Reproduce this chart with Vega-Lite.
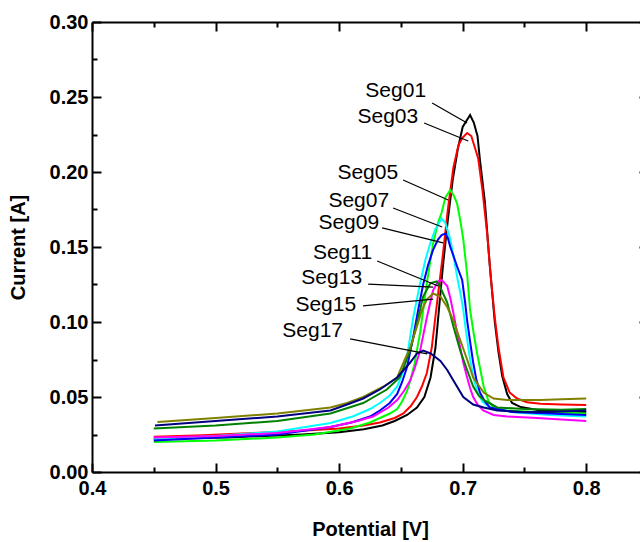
{
 "$schema": "https://vega.github.io/schema/vega-lite/v6.json",
 "width": 556, "height": 450,
 "autosize": {"type": "none"},
 "padding": {"left": 92, "top": 22, "right": -8, "bottom": 70},
 "background": "white",
 "config": {"view": {"stroke": null}, "font": "Liberation Sans"},
 "datasets": {
  "curves": [
   {"s":"Seg01","v":0.45,"i":0.022},{"s":"Seg01","v":0.48,"i":0.0225},{"s":"Seg01","v":0.51,"i":0.023},{"s":"Seg01","v":0.54,"i":0.024},{"s":"Seg01","v":0.57,"i":0.025},{"s":"Seg01","v":0.6,"i":0.0265},{"s":"Seg01","v":0.62,"i":0.0285},{"s":"Seg01","v":0.635,"i":0.031},{"s":"Seg01","v":0.645,"i":0.034},{"s":"Seg01","v":0.655,"i":0.038},{"s":"Seg01","v":0.663,"i":0.043},{"s":"Seg01","v":0.669,"i":0.05},{"s":"Seg01","v":0.674,"i":0.063},{"s":"Seg01","v":0.678,"i":0.083},{"s":"Seg01","v":0.681,"i":0.11},{"s":"Seg01","v":0.684,"i":0.137},{"s":"Seg01","v":0.688,"i":0.168},{"s":"Seg01","v":0.692,"i":0.195},{"s":"Seg01","v":0.696,"i":0.215},{"s":"Seg01","v":0.7,"i":0.23},{"s":"Seg01","v":0.706,"i":0.238},{"s":"Seg01","v":0.709,"i":0.233},{"s":"Seg01","v":0.712,"i":0.224},{"s":"Seg01","v":0.714,"i":0.208},{"s":"Seg01","v":0.718,"i":0.18},{"s":"Seg01","v":0.722,"i":0.137},{"s":"Seg01","v":0.726,"i":0.1},{"s":"Seg01","v":0.729,"i":0.08},{"s":"Seg01","v":0.732,"i":0.064},{"s":"Seg01","v":0.736,"i":0.052},{"s":"Seg01","v":0.74,"i":0.046},{"s":"Seg01","v":0.747,"i":0.0433},{"s":"Seg01","v":0.763,"i":0.041},{"s":"Seg01","v":0.78,"i":0.0405},{"s":"Seg01","v":0.8,"i":0.04},
   {"s":"Seg03","v":0.45,"i":0.0235},{"s":"Seg03","v":0.49,"i":0.0245},{"s":"Seg03","v":0.53,"i":0.026},{"s":"Seg03","v":0.57,"i":0.0275},{"s":"Seg03","v":0.6,"i":0.029},{"s":"Seg03","v":0.62,"i":0.031},{"s":"Seg03","v":0.633,"i":0.033},{"s":"Seg03","v":0.645,"i":0.036},{"s":"Seg03","v":0.652,"i":0.039},{"s":"Seg03","v":0.658,"i":0.044},{"s":"Seg03","v":0.663,"i":0.05},{"s":"Seg03","v":0.667,"i":0.057},{"s":"Seg03","v":0.671,"i":0.066},{"s":"Seg03","v":0.675,"i":0.083},{"s":"Seg03","v":0.68,"i":0.118},{"s":"Seg03","v":0.684,"i":0.145},{"s":"Seg03","v":0.688,"i":0.175},{"s":"Seg03","v":0.6925,"i":0.203},{"s":"Seg03","v":0.6966,"i":0.218},{"s":"Seg03","v":0.7,"i":0.223},{"s":"Seg03","v":0.7036,"i":0.226},{"s":"Seg03","v":0.707,"i":0.224},{"s":"Seg03","v":0.7126,"i":0.209},{"s":"Seg03","v":0.716,"i":0.188},{"s":"Seg03","v":0.7198,"i":0.159},{"s":"Seg03","v":0.723,"i":0.128},{"s":"Seg03","v":0.726,"i":0.103},{"s":"Seg03","v":0.729,"i":0.083},{"s":"Seg03","v":0.733,"i":0.063},{"s":"Seg03","v":0.738,"i":0.053},{"s":"Seg03","v":0.744,"i":0.049},{"s":"Seg03","v":0.752,"i":0.0465},{"s":"Seg03","v":0.763,"i":0.0455},{"s":"Seg03","v":0.78,"i":0.045},{"s":"Seg03","v":0.8,"i":0.0447},
   {"s":"Seg05","v":0.45,"i":0.02},{"s":"Seg05","v":0.5,"i":0.021},{"s":"Seg05","v":0.55,"i":0.023},{"s":"Seg05","v":0.58,"i":0.025},{"s":"Seg05","v":0.609,"i":0.029},{"s":"Seg05","v":0.625,"i":0.033},{"s":"Seg05","v":0.633,"i":0.036},{"s":"Seg05","v":0.641,"i":0.039},{"s":"Seg05","v":0.647,"i":0.042},{"s":"Seg05","v":0.651,"i":0.047},{"s":"Seg05","v":0.655,"i":0.054},{"s":"Seg05","v":0.658,"i":0.062},{"s":"Seg05","v":0.661,"i":0.072},{"s":"Seg05","v":0.6656,"i":0.093},{"s":"Seg05","v":0.671,"i":0.126},{"s":"Seg05","v":0.676,"i":0.152},{"s":"Seg05","v":0.68,"i":0.166},{"s":"Seg05","v":0.683,"i":0.173},{"s":"Seg05","v":0.686,"i":0.183},{"s":"Seg05","v":0.69,"i":0.188},{"s":"Seg05","v":0.693,"i":0.184},{"s":"Seg05","v":0.6955,"i":0.179},{"s":"Seg05","v":0.698,"i":0.168},{"s":"Seg05","v":0.7005,"i":0.155},{"s":"Seg05","v":0.7036,"i":0.132},{"s":"Seg05","v":0.706,"i":0.108},{"s":"Seg05","v":0.709,"i":0.092},{"s":"Seg05","v":0.7117,"i":0.079},{"s":"Seg05","v":0.717,"i":0.057},{"s":"Seg05","v":0.721,"i":0.047},{"s":"Seg05","v":0.725,"i":0.043},{"s":"Seg05","v":0.735,"i":0.041},{"s":"Seg05","v":0.76,"i":0.04},{"s":"Seg05","v":0.8,"i":0.039},
   {"s":"Seg07","v":0.45,"i":0.022},{"s":"Seg07","v":0.5,"i":0.024},{"s":"Seg07","v":0.55,"i":0.027},{"s":"Seg07","v":0.593,"i":0.0327},{"s":"Seg07","v":0.611,"i":0.037},{"s":"Seg07","v":0.625,"i":0.042},{"s":"Seg07","v":0.633,"i":0.046},{"s":"Seg07","v":0.641,"i":0.051},{"s":"Seg07","v":0.647,"i":0.057},{"s":"Seg07","v":0.651,"i":0.065},{"s":"Seg07","v":0.655,"i":0.077},{"s":"Seg07","v":0.66,"i":0.103},{"s":"Seg07","v":0.6656,"i":0.126},{"s":"Seg07","v":0.67,"i":0.142},{"s":"Seg07","v":0.674,"i":0.153},{"s":"Seg07","v":0.678,"i":0.162},{"s":"Seg07","v":0.683,"i":0.169},{"s":"Seg07","v":0.686,"i":0.166},{"s":"Seg07","v":0.69,"i":0.155},{"s":"Seg07","v":0.693,"i":0.142},{"s":"Seg07","v":0.696,"i":0.128},{"s":"Seg07","v":0.6985,"i":0.118},{"s":"Seg07","v":0.7005,"i":0.108},{"s":"Seg07","v":0.703,"i":0.092},{"s":"Seg07","v":0.706,"i":0.075},{"s":"Seg07","v":0.709,"i":0.062},{"s":"Seg07","v":0.712,"i":0.053},{"s":"Seg07","v":0.716,"i":0.047},{"s":"Seg07","v":0.722,"i":0.043},{"s":"Seg07","v":0.74,"i":0.04},{"s":"Seg07","v":0.77,"i":0.038},{"s":"Seg07","v":0.8,"i":0.037},
   {"s":"Seg09","v":0.45,"i":0.021},{"s":"Seg09","v":0.5,"i":0.023},{"s":"Seg09","v":0.55,"i":0.025},{"s":"Seg09","v":0.593,"i":0.03},{"s":"Seg09","v":0.61,"i":0.033},{"s":"Seg09","v":0.625,"i":0.037},{"s":"Seg09","v":0.633,"i":0.041},{"s":"Seg09","v":0.641,"i":0.046},{"s":"Seg09","v":0.647,"i":0.052},{"s":"Seg09","v":0.651,"i":0.06},{"s":"Seg09","v":0.655,"i":0.07},{"s":"Seg09","v":0.66,"i":0.09},{"s":"Seg09","v":0.664,"i":0.108},{"s":"Seg09","v":0.668,"i":0.125},{"s":"Seg09","v":0.672,"i":0.138},{"s":"Seg09","v":0.676,"i":0.148},{"s":"Seg09","v":0.68,"i":0.155},{"s":"Seg09","v":0.683,"i":0.158},{"s":"Seg09","v":0.686,"i":0.159},{"s":"Seg09","v":0.688,"i":0.156},{"s":"Seg09","v":0.69,"i":0.15},{"s":"Seg09","v":0.693,"i":0.143},{"s":"Seg09","v":0.6955,"i":0.137},{"s":"Seg09","v":0.6996,"i":0.128},{"s":"Seg09","v":0.702,"i":0.113},{"s":"Seg09","v":0.7036,"i":0.101},{"s":"Seg09","v":0.706,"i":0.087},{"s":"Seg09","v":0.7085,"i":0.073},{"s":"Seg09","v":0.711,"i":0.062},{"s":"Seg09","v":0.714,"i":0.053},{"s":"Seg09","v":0.718,"i":0.047},{"s":"Seg09","v":0.722,"i":0.043},{"s":"Seg09","v":0.74,"i":0.04},{"s":"Seg09","v":0.77,"i":0.039},{"s":"Seg09","v":0.8,"i":0.038},
   {"s":"Seg11","v":0.45,"i":0.023},{"s":"Seg11","v":0.5,"i":0.024},{"s":"Seg11","v":0.55,"i":0.026},{"s":"Seg11","v":0.593,"i":0.03},{"s":"Seg11","v":0.615,"i":0.034},{"s":"Seg11","v":0.6275,"i":0.037},{"s":"Seg11","v":0.64,"i":0.043},{"s":"Seg11","v":0.647,"i":0.048},{"s":"Seg11","v":0.6525,"i":0.054},{"s":"Seg11","v":0.6575,"i":0.061},{"s":"Seg11","v":0.6615,"i":0.07},{"s":"Seg11","v":0.6656,"i":0.081},{"s":"Seg11","v":0.671,"i":0.103},{"s":"Seg11","v":0.676,"i":0.121},{"s":"Seg11","v":0.68,"i":0.127},{"s":"Seg11","v":0.683,"i":0.128},{"s":"Seg11","v":0.6875,"i":0.124},{"s":"Seg11","v":0.69,"i":0.116},{"s":"Seg11","v":0.6925,"i":0.106},{"s":"Seg11","v":0.695,"i":0.095},{"s":"Seg11","v":0.698,"i":0.083},{"s":"Seg11","v":0.7005,"i":0.073},{"s":"Seg11","v":0.7036,"i":0.063},{"s":"Seg11","v":0.706,"i":0.056},{"s":"Seg11","v":0.7085,"i":0.05},{"s":"Seg11","v":0.712,"i":0.045},{"s":"Seg11","v":0.7166,"i":0.041},{"s":"Seg11","v":0.725,"i":0.038},{"s":"Seg11","v":0.736,"i":0.037},{"s":"Seg11","v":0.76,"i":0.036},{"s":"Seg11","v":0.78,"i":0.035},{"s":"Seg11","v":0.8,"i":0.034},
   {"s":"Seg13","v":0.45,"i":0.029},{"s":"Seg13","v":0.5,"i":0.031},{"s":"Seg13","v":0.55,"i":0.034},{"s":"Seg13","v":0.593,"i":0.039},{"s":"Seg13","v":0.6195,"i":0.046},{"s":"Seg13","v":0.6386,"i":0.055},{"s":"Seg13","v":0.649,"i":0.063},{"s":"Seg13","v":0.6575,"i":0.081},{"s":"Seg13","v":0.663,"i":0.099},{"s":"Seg13","v":0.668,"i":0.117},{"s":"Seg13","v":0.674,"i":0.126},{"s":"Seg13","v":0.679,"i":0.127},{"s":"Seg13","v":0.682,"i":0.123},{"s":"Seg13","v":0.6875,"i":0.113},{"s":"Seg13","v":0.6925,"i":0.097},{"s":"Seg13","v":0.698,"i":0.081},{"s":"Seg13","v":0.7036,"i":0.068},{"s":"Seg13","v":0.7085,"i":0.057},{"s":"Seg13","v":0.713,"i":0.051},{"s":"Seg13","v":0.717,"i":0.048},{"s":"Seg13","v":0.728,"i":0.043},{"s":"Seg13","v":0.75,"i":0.042},{"s":"Seg13","v":0.78,"i":0.0415},{"s":"Seg13","v":0.8,"i":0.042},
   {"s":"Seg15","v":0.453,"i":0.0333},{"s":"Seg15","v":0.5,"i":0.036},{"s":"Seg15","v":0.55,"i":0.039},{"s":"Seg15","v":0.593,"i":0.043},{"s":"Seg15","v":0.6065,"i":0.046},{"s":"Seg15","v":0.6195,"i":0.05},{"s":"Seg15","v":0.636,"i":0.057},{"s":"Seg15","v":0.647,"i":0.063},{"s":"Seg15","v":0.652,"i":0.0727},{"s":"Seg15","v":0.6575,"i":0.083},{"s":"Seg15","v":0.663,"i":0.097},{"s":"Seg15","v":0.667,"i":0.108},{"s":"Seg15","v":0.671,"i":0.115},{"s":"Seg15","v":0.676,"i":0.119},{"s":"Seg15","v":0.682,"i":0.117},{"s":"Seg15","v":0.6875,"i":0.11},{"s":"Seg15","v":0.6925,"i":0.101},{"s":"Seg15","v":0.698,"i":0.088},{"s":"Seg15","v":0.7036,"i":0.075},{"s":"Seg15","v":0.7085,"i":0.063},{"s":"Seg15","v":0.717,"i":0.053},{"s":"Seg15","v":0.725,"i":0.049},{"s":"Seg15","v":0.736,"i":0.048},{"s":"Seg15","v":0.763,"i":0.048},{"s":"Seg15","v":0.78,"i":0.0485},{"s":"Seg15","v":0.8,"i":0.049},
   {"s":"Seg17","v":0.451,"i":0.031},{"s":"Seg17","v":0.5,"i":0.034},{"s":"Seg17","v":0.55,"i":0.037},{"s":"Seg17","v":0.593,"i":0.041},{"s":"Seg17","v":0.6065,"i":0.045},{"s":"Seg17","v":0.6195,"i":0.049},{"s":"Seg17","v":0.633,"i":0.055},{"s":"Seg17","v":0.647,"i":0.063},{"s":"Seg17","v":0.6575,"i":0.073},{"s":"Seg17","v":0.663,"i":0.079},{"s":"Seg17","v":0.668,"i":0.081},{"s":"Seg17","v":0.674,"i":0.079},{"s":"Seg17","v":0.682,"i":0.074},{"s":"Seg17","v":0.6875,"i":0.068},{"s":"Seg17","v":0.6925,"i":0.061},{"s":"Seg17","v":0.7005,"i":0.05},{"s":"Seg17","v":0.7085,"i":0.045},{"s":"Seg17","v":0.717,"i":0.043},{"s":"Seg17","v":0.728,"i":0.041},{"s":"Seg17","v":0.749,"i":0.04},{"s":"Seg17","v":0.77,"i":0.04},{"s":"Seg17","v":0.8,"i":0.041}
  ],
  "notes": [
   {"s":"Seg01","tx":0.6704,"ty":0.2498,"x1":0.6753,"y1":0.246,"x2":0.7036,"y2":0.2327},
   {"s":"Seg03","tx":0.664,"ty":0.2325,"x1":0.6688,"y1":0.2327,"x2":0.7045,"y2":0.2207},
   {"s":"Seg05","tx":0.6478,"ty":0.1951,"x1":0.6518,"y1":0.1947,"x2":0.6883,"y2":0.1813},
   {"s":"Seg07","tx":0.6405,"ty":0.1765,"x1":0.6437,"y1":0.176,"x2":0.6834,"y2":0.1633},
   {"s":"Seg09","tx":0.6324,"ty":0.1618,"x1":0.6348,"y1":0.1627,"x2":0.6842,"y2":0.1527},
   {"s":"Seg11","tx":0.6267,"ty":0.1418,"x1":0.6308,"y1":0.1407,"x2":0.6802,"y2":0.124},
   {"s":"Seg13","tx":0.6186,"ty":0.1251,"x1":0.6235,"y1":0.1253,"x2":0.6761,"y2":0.1233},
   {"s":"Seg15","tx":0.6138,"ty":0.1071,"x1":0.6194,"y1":0.1107,"x2":0.6761,"y2":0.1153},
   {"s":"Seg17","tx":0.6032,"ty":0.0898,"x1":0.6089,"y1":0.0887,"x2":0.6713,"y2":0.0787}
  ]
 },
 "layer": [
  {
   "data": {"name": "curves"},
   "mark": {"type": "line", "strokeWidth": 2, "clip": true},
   "encoding": {
    "x": {"field": "v", "type": "quantitative",
     "scale": {"domain": [0.4, 0.85], "nice": false, "zero": false},
     "axis": {"orient": "bottom", "values": [0.4,0.45,0.5,0.55,0.6,0.65,0.7,0.75,0.8,0.85],
      "labelExpr": "abs(datum.value*10 - round(datum.value*10)) < 0.001 ? format(datum.value, '.1f') : ''",
      "tickSize": {"condition": {"test": "abs(datum.value*10 - round(datum.value*10)) < 0.001", "value": -9}, "value": -5},
      "tickWidth": 2, "tickColor": "black", "domainColor": "black", "domainWidth": 2, "grid": false,
      "labelFont": "Liberation Sans", "labelFontWeight": "bold", "labelFontSize": 20, "labelColor": "black",
      "labelPadding": 15, "labelFlush": false, "labelOverlap": false,
      "title": "Potential [V]", "titleFont": "Liberation Sans", "titleFontSize": 20, "titleFontWeight": "bold", "titleColor": "black", "titlePadding": 17}},
    "y": {"field": "i", "type": "quantitative",
     "scale": {"domain": [0, 0.3], "nice": false, "zero": false},
     "axis": {"orient": "left", "values": [0,0.025,0.05,0.075,0.1,0.125,0.15,0.175,0.2,0.225,0.25,0.275,0.3],
      "labelExpr": "abs(datum.value*20 - round(datum.value*20)) < 0.001 ? format(datum.value, '.2f') : ''",
      "tickSize": {"condition": {"test": "abs(datum.value*20 - round(datum.value*20)) < 0.001", "value": -9}, "value": -5},
      "tickWidth": 2, "tickColor": "black", "domainColor": "black", "domainWidth": 2, "grid": false,
      "labelFont": "Liberation Sans", "labelFontWeight": "bold", "labelFontSize": 20, "labelColor": "black",
      "labelPadding": 13, "labelFlush": false, "labelOverlap": false,
      "title": "Current [A]", "titleFont": "Liberation Sans", "titleFontSize": 20, "titleFontWeight": "bold", "titleColor": "black", "titlePadding": 21}},
    "color": {"field": "s", "type": "nominal",
     "scale": {"domain": ["Seg01","Seg03","Seg05","Seg07","Seg09","Seg11","Seg13","Seg15","Seg17"],
      "range": ["#000000","#FF0000","#00FF00","#00FFFF","#0000FF","#FF00FF","#008000","#808000","#000080"]},
     "legend": null}
   }
  },
  {
   "data": {"name": "notes"},
   "mark": {"type": "rule", "strokeWidth": 1.2, "color": "black"},
   "encoding": {
    "x": {"field": "x1", "type": "quantitative",
     "axis": {"orient": "top", "values": [0.4,0.45,0.5,0.55,0.6,0.65,0.7,0.75,0.8,0.85], "labels": false, "title": null,
      "tickSize": {"condition": {"test": "abs(datum.value*10 - round(datum.value*10)) < 0.001", "value": -9}, "value": -5},
      "tickWidth": 2, "tickColor": "black", "domainColor": "black", "domainWidth": 2, "grid": false}},
    "y": {"field": "y1", "type": "quantitative",
     "axis": {"orient": "right", "values": [0,0.025,0.05,0.075,0.1,0.125,0.15,0.175,0.2,0.225,0.25,0.275,0.3], "labels": false, "title": null,
      "tickSize": {"condition": {"test": "abs(datum.value*20 - round(datum.value*20)) < 0.001", "value": -9}, "value": -5},
      "tickWidth": 2, "tickColor": "black", "domainColor": "black", "domainWidth": 2, "grid": false}},
    "x2": {"field": "x2"},
    "y2": {"field": "y2"}
   }
  },
  {
   "data": {"name": "notes"},
   "mark": {"type": "text", "align": "right", "baseline": "alphabetic", "font": "Liberation Sans", "fontSize": 21, "color": "black"},
   "encoding": {
    "x": {"field": "tx", "type": "quantitative", "axis": null},
    "y": {"field": "ty", "type": "quantitative", "axis": null},
    "text": {"field": "s"}
   }
  }
 ],
 "resolve": {"axis": {"x": "independent", "y": "independent"}}
}
